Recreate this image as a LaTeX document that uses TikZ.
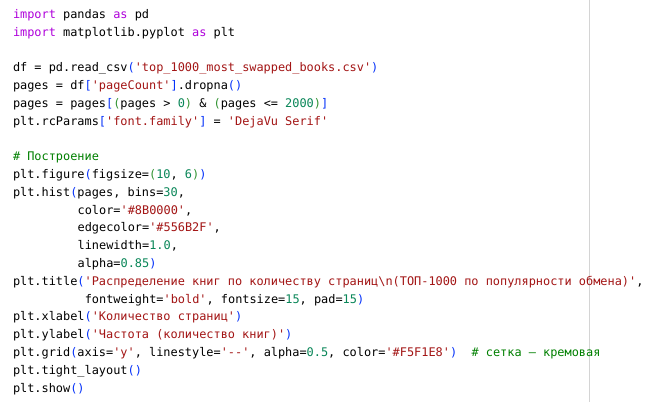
\documentclass[tikz,border=0pt]{standalone}
\usepackage{fontspec}
\usepackage{xcolor}
\newfontfamily\codefont{DejaVu Sans Mono}
\definecolor{kwc}{HTML}{AF00DB}
\definecolor{strc}{HTML}{A31515}
\definecolor{numc}{HTML}{098658}
\definecolor{comc}{HTML}{008000}
\definecolor{bonec}{HTML}{0431FA}
\definecolor{btwoc}{HTML}{319331}
\definecolor{rulec}{HTML}{D4D4D4}
\newcommand\Kw[1]{\textcolor{kwc}{#1}}
\newcommand\St[1]{\textcolor{strc}{#1}}
\newcommand\Nm[1]{\textcolor{numc}{#1}}
\newcommand\Cm[1]{\textcolor{comc}{#1}}
\newcommand\Bo[1]{\textcolor{bonec}{#1}}
\newcommand\Bt[1]{\textcolor{btwoc}{#1}}
\begin{document}
\begin{tikzpicture}[x=1pt,y=-1pt,
  codeline/.style={anchor=base west,inner sep=0pt,outer sep=0pt,
    font=\codefont\fontsize{11.9}{14}\selectfont,text=black}]
\useasboundingbox[fill=white] (0,0) rectangle (668,402);
\draw[rulec,line width=1pt] (589.5,0) -- (589.5,402);
\def\cw{7.18}
\def\bx{13}
\def\by{18.3}
\def\lp{17.8}
\node[codeline] (l0) at (\bx,\by+0*\lp) {\Kw{import} pandas \Kw{as} pd};
\node[codeline] (l1) at (\bx,\by+1*\lp) {\Kw{import} matplotlib.pyplot \Kw{as} plt};
\node[codeline] (l3) at (\bx,\by+3*\lp) {df = pd.read\_csv\Bo{(}\St{'top\_1000\_most\_swapped\_books.csv'}\Bo{)}};
\node[codeline] (l4) at (\bx,\by+4*\lp) {pages = df\Bo{[}\St{'pageCount'}\Bo{]}.dropna\Bo{()}};
\node[codeline] (l5) at (\bx,\by+5*\lp) {pages = pages\Bo{[}\Bt{(}pages > \Nm{0}\Bt{)} \& \Bt{(}pages <= \Nm{2000}\Bt{)}\Bo{]}};
\node[codeline] (l6) at (\bx,\by+6*\lp) {plt.rcParams\Bo{[}\St{'font.family'}\Bo{]} = \St{'DejaVu Serif'}};
\node[codeline] (l8) at (\bx,\by+8*\lp) {\Cm{\# Построение}};
\node[codeline] (l9) at (\bx,\by+9*\lp) {plt.figure\Bo{(}figsize=\Bt{(}\Nm{10}, \Nm{6}\Bt{)}\Bo{)}};
\node[codeline] (l10) at (\bx,\by+10*\lp) {plt.hist\Bo{(}pages, bins=\Nm{30},};
\node[codeline] (l11) at (\bx+9*\cw,\by+11*\lp) {color=\St{'\#8B0000'},};
\node[codeline] (l12) at (\bx+9*\cw,\by+12*\lp) {edgecolor=\St{'\#556B2F'},};
\node[codeline] (l13) at (\bx+9*\cw,\by+13*\lp) {linewidth=\Nm{1.0},};
\node[codeline] (l14) at (\bx+9*\cw,\by+14*\lp) {alpha=\Nm{0.85}\Bo{)}};
\node[codeline] (l15) at (\bx,\by+15*\lp) {plt.title\Bo{(}\St{'Распределение книг по количеству страниц\textbackslash n(ТОП-1000 по популярности обмена)'},};
\node[codeline] (l16) at (\bx+10*\cw,\by+16*\lp) {fontweight=\St{'bold'}, fontsize=\Nm{15}, pad=\Nm{15}\Bo{)}};
\node[codeline] (l17) at (\bx,\by+17*\lp) {plt.xlabel\Bo{(}\St{'Количество страниц'}\Bo{)}};
\node[codeline] (l18) at (\bx,\by+18*\lp) {plt.ylabel\Bo{(}\St{'Частота (количество книг)'}\Bo{)}};
\node[codeline] (l19) at (\bx,\by+19*\lp) {plt.grid\Bo{(}axis=\St{'y'}, linestyle=\St{'-{}-'}, alpha=\Nm{0.5}, color=\St{'\#F5F1E8'}\Bo{)}\ \ \Cm{\# сетка — кремовая}};
\node[codeline] (l20) at (\bx,\by+20*\lp) {plt.tight\_layout\Bo{()}};
\node[codeline] (l21) at (\bx,\by+21*\lp) {plt.show\Bo{()}};
\end{tikzpicture}
\end{document}
